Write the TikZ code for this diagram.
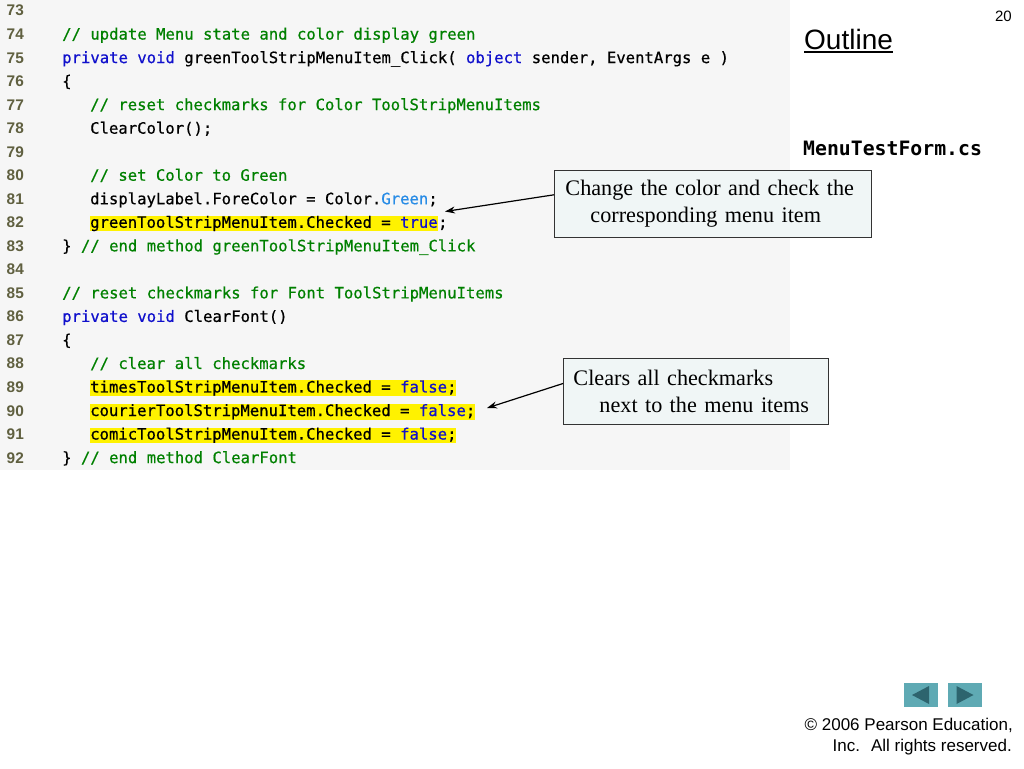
\documentclass[tikz,border=0pt]{standalone}
\usepackage{fontspec}
\usetikzlibrary{positioning,arrows.meta}
\newfontfamily\codefont[FakeBold=0.6]{DejaVu Sans Mono}
\newfontfamily\filefont{DejaVu Sans Mono}
\newfontfamily\slidefont{Liberation Sans}
\newfontfamily\notefont{Liberation Serif}
\definecolor{codebg}{RGB}{246,246,246}
\definecolor{linenum}{RGB}{96,96,64}
\definecolor{comment}{RGB}{0,128,0}
\definecolor{keyword}{RGB}{16,16,204}
\definecolor{typename}{RGB}{40,140,230}
\definecolor{notebg}{RGB}{240,246,246}
\definecolor{navfill}{RGB}{95,170,180}
\definecolor{navtri}{RGB}{45,100,110}
\newcommand{\kw}[1]{\textcolor{keyword}{#1}}
\newcommand{\cm}[1]{\textcolor{comment}{#1}}
\tikzset{
  lineno/.style={anchor=base west, inner sep=0pt, text=linenum, font=\slidefont\bfseries\fontsize{15.4}{17}\selectfont},
  code/.style={anchor=base west, inner sep=0pt, font=\codefont\fontsize{15.6}{18}\selectfont},
  hl/.style={code, fill=yellow, text height=12pt, text depth=3.5pt},
  callout/.style={draw=black!80, line width=0.9pt, fill=notebg, anchor=north west, align=left, inner xsep=11pt, inner ysep=10pt, font=\notefont\fontsize{22.2}{26.5}\selectfont},
  pointer/.style={-{Stealth[length=10pt,width=7pt]}, line width=1.2pt},
  navbtn/.style={fill=navfill, minimum width=34pt, minimum height=24pt, inner sep=0pt},
  footer/.style={anchor=base east, inner sep=0pt, font=\slidefont\fontsize{17}{21}\selectfont}
}
\begin{document}
\begin{tikzpicture}[x=1pt,y=-1pt]
\useasboundingbox[fill=white] (0,0) rectangle (1024,768);
\fill[codebg] (0,0) rectangle (790,470);
\foreach \n in {73,...,92}
  \node[lineno] (n\n) at (6.5,{16+(\n-73)*23.53}) {\n};
\node[code] (c74) at (62,0 |- n74.base) {\cm{// update Menu state and color display green}};
\node[code] (c75) at (62,0 |- n75.base) {\kw{private void} greenToolStripMenuItem\_Click( \kw{object} sender, EventArgs e )};
\node[code] (c76) at (62,0 |- n76.base) {\{};
\node[code] (c77) at (90,0 |- n77.base) {\cm{// reset checkmarks for Color ToolStripMenuItems}};
\node[code] (c78) at (90,0 |- n78.base) {ClearColor();};
\node[code] (c80) at (90,0 |- n80.base) {\cm{// set Color to Green}};
\node[code] (c81) at (90,0 |- n81.base) {displayLabel.ForeColor = Color.\textcolor{typename}{Green};};
\node[hl] (c82) at (90,0 |- n82.base) {greenToolStripMenuItem.Checked = \kw{true}};
\node[code] (c82s) at (c82.base east) {;};
\node[code] (c83) at (62,0 |- n83.base) {\} \cm{// end method greenToolStripMenuItem\_Click}};
\node[code] (c85) at (62,0 |- n85.base) {\cm{// reset checkmarks for Font ToolStripMenuItems}};
\node[code] (c86) at (62,0 |- n86.base) {\kw{private void} ClearFont()};
\node[code] (c87) at (62,0 |- n87.base) {\{};
\node[code] (c88) at (90,0 |- n88.base) {\cm{// clear all checkmarks}};
\node[hl] (c89) at (90,0 |- n89.base) {timesToolStripMenuItem.Checked = \kw{false};};
\node[hl] (c90) at (90,0 |- n90.base) {courierToolStripMenuItem.Checked = \kw{false};};
\node[hl] (c91) at (90,0 |- n91.base) {comicToolStripMenuItem.Checked = \kw{false};};
\node[code] (c92) at (62,0 |- n92.base) {\} \cm{// end method ClearFont}};
\node[anchor=base east, inner sep=0pt, font=\slidefont\fontsize{15}{18}\selectfont] (pageno) at (1012,22) {20};
\node[anchor=base west, inner sep=0pt, font=\slidefont\fontsize{28}{32}\selectfont] (outline) at (804,49.5) {Outline};
\draw[line width=1.6pt] ([yshift=-2.8pt]outline.base west) -- ([yshift=-2.8pt]outline.base east);
\node[anchor=base west, inner sep=0pt, font=\filefont\bfseries\fontsize{19.8}{22}\selectfont] (fname) at (803,155) {MenuTestForm.cs};
\node[callout, text width=295pt] (note82) at (554,170) {Change the color and check the\\\hspace*{25pt}corresponding menu item};
\node[callout, text width=245pt, inner xsep=10pt, inner ysep=12pt] (note90) at (563,358) {Clears all checkmarks\\\hspace*{26pt}next to the menu items};
\coordinate (tip82) at (445,211.5);
\coordinate (tip90) at (487,408);
\draw[pointer] ([yshift=9pt]note82.west) -- (tip82);
\draw[pointer] ([yshift=8pt]note90.west) -- (tip90);
\node[navbtn] (navback) at (921,695) {};
\node[navbtn] (navfwd) at (964.5,695) {};
\fill[navtri] ([xshift=-9pt]navback.center) -- ([xshift=8pt,yshift=9pt]navback.center) -- ([xshift=8pt,yshift=-9pt]navback.center) -- cycle;
\fill[navtri] ([xshift=9pt]navfwd.center) -- ([xshift=-8pt,yshift=9pt]navfwd.center) -- ([xshift=-8pt,yshift=-9pt]navfwd.center) -- cycle;
\node[footer] (copy1) at (1013,730) {\textcopyright{} 2006 Pearson Education,};
\node[footer] (copy2) at (1012,751.5) {Inc.\hspace{11pt}All rights reserved.};
\end{tikzpicture}
\end{document}
